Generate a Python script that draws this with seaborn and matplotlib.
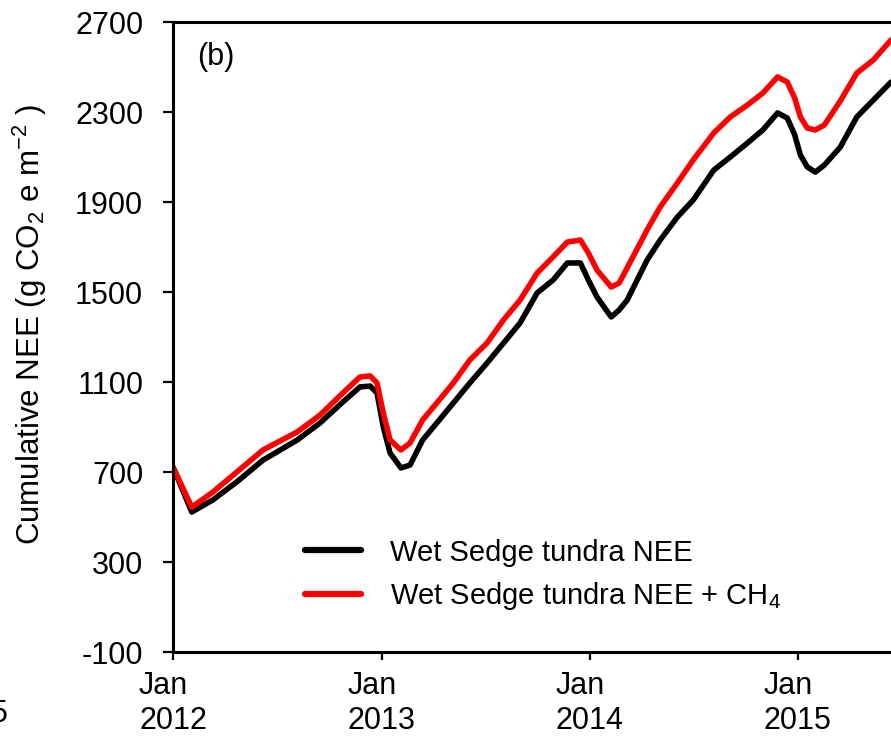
import numpy as np
import pandas as pd
import matplotlib
matplotlib.use("Agg")
import matplotlib.pyplot as plt
import matplotlib.dates as mdates
import seaborn as sns

# values (g CO2 e m-2)
dates = [
    "2012-01-01", "2012-02-03", "2012-03-11", "2012-04-22", "2012-06-07",
    "2012-08-06", "2012-09-15", "2012-10-25", "2012-11-24", "2012-12-12",
    "2012-12-24", "2013-01-04", "2013-01-16", "2013-02-04", "2013-02-20",
    "2013-03-14", "2013-04-08", "2013-05-07", "2013-06-05", "2013-07-05",
    "2013-08-03", "2013-09-01", "2013-10-01", "2013-10-29", "2013-11-23",
    "2013-12-16", "2013-12-30", "2014-01-14", "2014-02-08", "2014-02-22",
    "2014-03-08", "2014-04-12", "2014-05-05", "2014-06-04", "2014-07-02",
    "2014-08-07", "2014-09-05", "2014-10-05", "2014-11-01", "2014-11-27",
    "2014-12-14", "2014-12-27", "2015-01-06", "2015-01-18", "2015-02-01",
    "2015-02-17", "2015-03-17", "2015-04-15", "2015-05-14", "2015-06-14",
]
nee = [
    722, 522, 576, 656, 753, 842, 918, 1011, 1078, 1082,
    1051, 900, 784, 718, 731, 842, 918, 1007, 1096, 1184,
    1273, 1362, 1496, 1553, 1629, 1629, 1553, 1478, 1389, 1420,
    1464, 1642, 1731, 1833, 1909, 2042, 2100, 2162, 2220, 2296,
    2273, 2198, 2109, 2056, 2033, 2064, 2144, 2278, 2353, 2433,
]
nee_ch4 = [
    722, 544, 611, 700, 798, 878, 953, 1051, 1122, 1127,
    1096, 962, 842, 798, 829, 931, 1007, 1096, 1198, 1273,
    1376, 1464, 1584, 1656, 1722, 1731, 1673, 1598, 1522, 1540,
    1607, 1776, 1878, 1984, 2087, 2207, 2278, 2331, 2384, 2456,
    2433, 2362, 2278, 2229, 2220, 2242, 2349, 2473, 2531, 2620,
]
series_names = ["Wet Sedge tundra NEE", "Wet Sedge tundra NEE + CH$_4$"]
series_colors = ["black", "red"]
y_ticks = [-100, 300, 700, 1100, 1500, 1900, 2300, 2700]
x_ticks = ["2012-01-01", "2013-01-01", "2014-01-01", "2015-01-01"]

df = pd.DataFrame({
    "date": pd.to_datetime(dates * 2),
    "value": nee + nee_ch4,
    "series": [series_names[0]] * len(nee) + [series_names[1]] * len(nee_ch4),
})

sns.set_style("ticks")
plt.rcParams["font.family"] = ["Liberation Sans", "DejaVu Sans"]
plt.rcParams["mathtext.default"] = "regular"
for key in ["text.color", "axes.labelcolor", "xtick.color", "ytick.color"]:
    plt.rcParams[key] = "black"

fig = plt.figure(figsize=(8.91, 7.41), dpi=100)
ax = fig.add_axes([173 / 891, 1 - 652 / 741, 1 - 173 / 891, (652 - 22) / 741])

sns.lineplot(data=df, x="date", y="value", hue="series", hue_order=series_names,
             palette=series_colors, linewidth=4, ax=ax, legend=False)

ax.set_ylim(-100, 2700)
ax.set_xlim(pd.Timestamp(dates[0]), pd.Timestamp(dates[-1]))
ax.set_yticks(y_ticks)
ax.set_yticklabels([str(v) for v in y_ticks])
ax.set_xticks(pd.to_datetime(x_ticks))
ax.xaxis.set_major_formatter(mdates.DateFormatter("%b\n%Y"))
ax.set_xlabel("")
ax.set_ylabel("Cumulative NEE (g CO$_2$ e m$^{-2}$ )", fontsize=22.5)
ax.yaxis.set_label_coords(-0.173, 0.52)
ax.tick_params(axis="y", direction="out", length=7.5, width=1.6, labelsize=22, pad=14)
ax.tick_params(axis="x", direction="out", length=6, width=1.6, labelsize=22, pad=8)
for lab in ax.get_xticklabels():
    lab.set_multialignment("left")
for side in ["left", "bottom", "top"]:
    ax.spines[side].set_linewidth(2.2)
    ax.spines[side].set_color("black")
ax.spines["right"].set_visible(False)

ax.text(0.034, 0.944, "(b)", transform=ax.transAxes, fontsize=22, va="center")

handles = [plt.Line2D([], [], color=c, linewidth=4.5) for c in series_colors]
ax.legend(handles, series_names, loc="upper left", bbox_to_anchor=(0.184, 0.18),
          frameon=False, fontsize=21, handlelength=1.9, handletextpad=1.0,
          labelspacing=0.46, borderpad=0, borderaxespad=0)

# clipped year label from the neighbouring panel
fig.text(8 / 891, 19 / 741, "2015", ha="right", va="baseline", fontsize=22)

fig.savefig("out.png", dpi=100)
